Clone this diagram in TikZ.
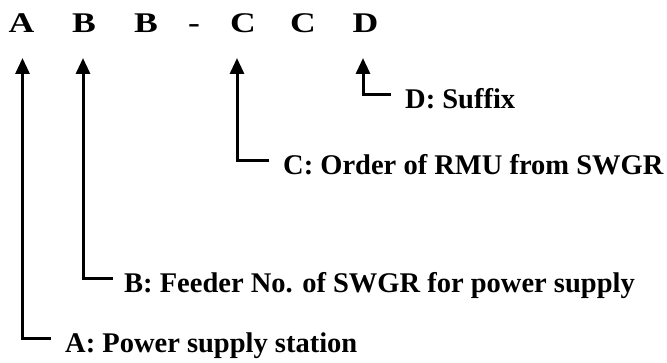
\documentclass[tikz,border=0pt]{standalone}
\usepackage{fontspec}
\setmainfont{Liberation Serif}
\newfontfamily\codefont[FakeStretch=1.25]{Liberation Serif}
\usetikzlibrary{arrows.meta}

\begin{document}
\begin{tikzpicture}[
    x=1pt, y=1pt,
    >={Triangle[width=14pt,length=16pt]},
    every node/.style={inner sep=0pt},
    code/.style={anchor=base, font=\codefont\bfseries\fontsize{28.5}{34}\selectfont},
    lab/.style={anchor=base west, font=\bfseries\fontsize{28.5}{34}\selectfont},
    lead/.style={->, line width=3pt},
]
\useasboundingbox (0,0) rectangle (667,363);

% Code letters
\node[code] (cA)   at (21.5, 330.5) {A};
\node[code] (cB1)  at (84, 330.5)   {B};
\node[code] (cB2)  at (146, 330.5)  {B};
\node[code] (dash) at (194, 330.5)  {-};
\node[code] (cC1)  at (243, 330.5)  {C};
\node[code] (cC2)  at (303, 330.5)  {C};
\node[code] (cD)   at (365.5, 330.5) {D};

% Explanations
\node[lab] (labD) at (405, 254) {D: Suffix};
\node[lab] (labC) at (283, 188) {C: Order of RMU from SWGR};
\node[lab] (labB) at (124, 70)  {B: Feeder No. of SWGR for power supply};
\node[lab] (labA) at (65, 10)   {A: Power supply station};

% Leaders from the explanations up to the letters
\draw[lead] ([xshift=-14pt, yshift=14.5pt]labA.base west) -| ([xshift=1pt, yshift=-25.5pt]cA.base);
\draw[lead] ([xshift=-11pt, yshift=14.5pt]labB.base west) -| ([xshift=-1pt, yshift=-25.5pt]cB1.base);
\draw[lead] ([xshift=-14pt, yshift=14.5pt]labC.base west) -| ([xshift=-6pt, yshift=-25.5pt]cC1.base);
\draw[lead] ([xshift=-14pt, yshift=14.5pt]labD.base west) -| ([xshift=-2.5pt, yshift=-25.5pt]cD.base);

\end{tikzpicture}
\end{document}
